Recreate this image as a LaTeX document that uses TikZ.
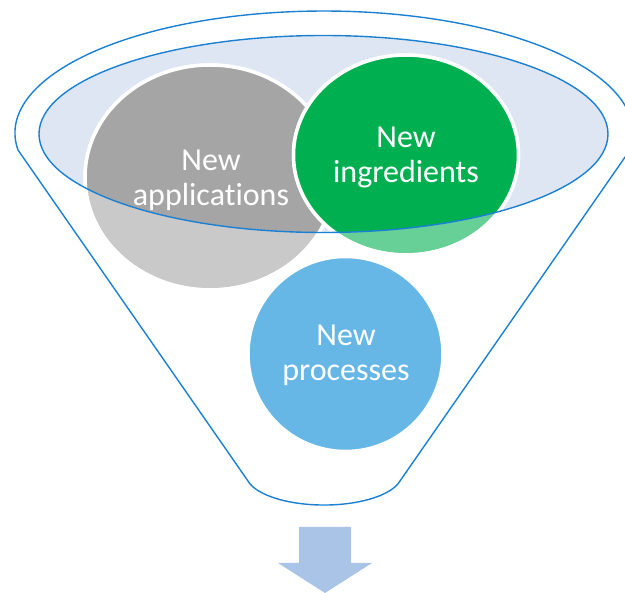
\documentclass[tikz,border=0pt]{standalone}
\usepackage{fontspec}
\setmainfont{Carlito}[Ligatures=NoCommon]
\usetikzlibrary{shapes.geometric}
\definecolor{funnelline}{HTML}{1B80D2}
\definecolor{rimfill}{HTML}{DEE6F3}
\definecolor{graydark}{HTML}{A5A5A5}
\definecolor{greendark}{HTML}{00B050}
\definecolor{bluefill}{HTML}{66B7E6}
\definecolor{arrowfill}{HTML}{A9C4E7}
\begin{document}
\begin{tikzpicture}[x=1pt,y=-1pt,
  bubble/.style={ellipse, inner sep=0pt, outer sep=0pt, draw=white, line width=3.5pt},
  rim/.style={draw=funnelline, line width=1.4pt},
  bubbletext/.style={text=white, align=center, inner sep=0pt, font=\fontsize{32}{35}\selectfont},
  mouth/.style={x radius=284.5, y radius=98.5}
]
\useasboundingbox (0,0) rectangle (625,593);

% inside of the funnel mouth
\fill[rimfill] (323.5,134) ellipse[mouth];

% grey bubble: pale below the mouth, full tone inside it
\node[bubble, fill=graydark!60!white, minimum width=250pt, minimum height=225pt] (apps) at (210,177.5) {};
\begin{scope}
  \clip (323.5,134) ellipse[mouth];
  \fill[graydark] (apps.center) ellipse[x radius=125, y radius=112.5];
\end{scope}
\draw[white, line width=3.5pt] (apps.center) ellipse[x radius=125, y radius=112.5];

% green bubble
\node[bubble, fill=greendark!60!white, minimum width=225pt, minimum height=200pt] (ingr) at (406,155) {};
\begin{scope}
  \clip (323.5,134) ellipse[mouth];
  \fill[greendark] (ingr.center) ellipse[x radius=112.5, y radius=100];
\end{scope}
\draw[white, line width=3.5pt] (ingr.center) ellipse[x radius=112.5, y radius=100];

% blue bubble
\node[bubble, fill=bluefill, minimum width=195pt, minimum height=195pt] (proc) at (345.5,354) {};

% funnel outline: mouth rim, sloped walls and rounded spout
\draw[rim] (323.5,134) ellipse[mouth];
\draw[rim, line join=round] (18,150) arc[start angle=172, end angle=368, x radius=309, y radius=122]
  -- (400,481) arc[start angle=13, end angle=167, x radius=78, y radius=31] -- cycle;

% labels
\node[bubbletext] (appstext) at (211,180) {New\\applications};
\node[bubbletext] (ingrtext) at (406,157.5) {New\\ingredients};
\node[bubbletext] (proctext) at (346,355.5) {New\\processes};

% output arrow below the spout
\fill[arrowfill] (299,527) -- (351,527) -- (351,563) -- (372,563) -- (325,593)
  -- (278,563) -- (299,563) -- cycle;
\end{tikzpicture}
\end{document}
